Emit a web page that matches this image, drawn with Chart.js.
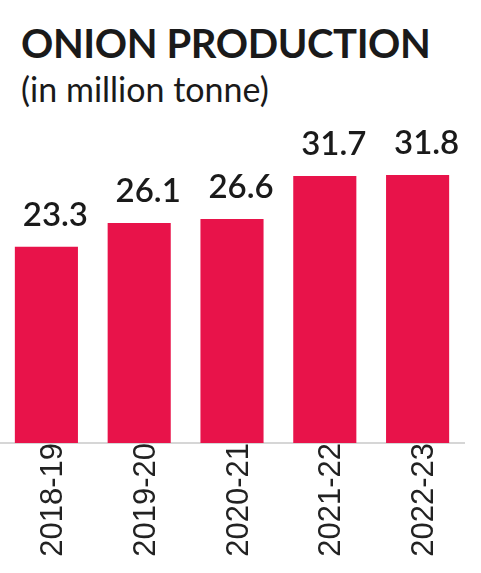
<!DOCTYPE html>
<html>
<head>
<meta charset="utf-8">
<script src="https://cdn.jsdelivr.net/npm/chart.js@4"></script>
<style>
  html, body { margin: 0; padding: 0; background: #fff; }
  #wrap { position: relative; width: 481px; height: 573px; overflow: hidden; }
  #title { position: absolute; left: 21px; top: 19px; font: 700 40px 'Lato', sans-serif; letter-spacing: -0.4px; color: #1a1a1a; white-space: nowrap; }
  #subtitle { position: absolute; left: 21px; top: 68px; font: 400 34px 'Lato', sans-serif; color: #1a1a1a; white-space: nowrap; }
  canvas { position: absolute; left: 0; top: 0; }
</style>
</head>
<body>
<div id="wrap">
  <div id="title">ONION PRODUCTION</div>
  <div id="subtitle">(in million tonne)</div>
  <canvas id="chart" width="481" height="573"></canvas>
</div>
<script>
const years = ['2018-19', '2019-20', '2020-21', '2021-22', '2022-23'];
const production = [23.3, 26.1, 26.6, 31.7, 31.8];

// Value labels above bars
const valueLabels = {
    id: 'valueLabels',
    afterDatasetsDraw(chart) {
        const ctx = chart.ctx;
        const meta = chart.getDatasetMeta(0);
        ctx.save();
        ctx.font = "600 33px 'Lato', sans-serif";
        ctx.fillStyle = '#1a1a1a';
        ctx.textAlign = 'center';
        ctx.textBaseline = 'alphabetic';
        meta.data.forEach((bar, i) => {
            ctx.fillText(production[i].toFixed(1), bar.x + 9, bar.y - 21);
        });
        ctx.restore();
    }
};

new Chart(document.getElementById('chart'), {
    type: 'bar',
    data: {
        labels: years,
        datasets: [{
            data: production,
            backgroundColor: '#e8134a',
            borderWidth: 0,
            categoryPercentage: 1,
            barPercentage: 0.68
        }]
    },
    options: {
        responsive: false,
        animation: false,
        layout: { padding: { top: 106, left: 0, right: 17, bottom: 0 } },
        plugins: {
            legend: { display: false },
            tooltip: { enabled: false }
        },
        scales: {
            x: {
                grid: { display: false, drawTicks: false },
                border: { display: true, color: '#d6d6d6', width: 2 },
                ticks: {
                    color: '#222',
                    font: { family: "'Liberation Sans', Arial, sans-serif", size: 31 },
                    minRotation: 90,
                    maxRotation: 90,
                    padding: 0,
                    labelOffset: 7
                },
                afterFit(scale) { scale.height = 130; }
            },
            y: {
                display: false,
                min: 0,
                max: 40
            }
        }
    },
    plugins: [valueLabels]
});
</script>
</body>
</html>
